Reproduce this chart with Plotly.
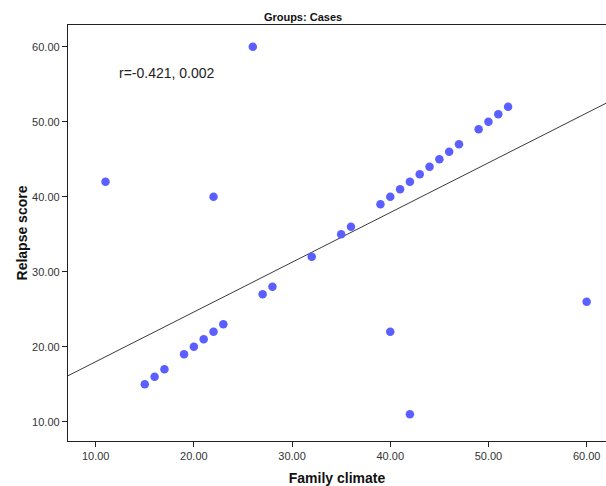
import plotly.graph_objects as go

family_climate = [11, 26, 22, 60, 40, 42,
                  15, 16, 17, 19, 20, 21, 22, 23, 27, 28, 32, 35, 36,
                  39, 40, 41, 42, 43, 44, 45, 46, 47, 49, 50, 51, 52]
relapse_score = [42, 60, 40, 26, 22, 11,
                 15, 16, 17, 19, 20, 21, 22, 23, 27, 28, 32, 35, 36,
                 39, 40, 41, 42, 43, 44, 45, 46, 47, 49, 50, 51, 52]

fit_intercept = 11.37
fit_slope = 0.663
x_range = [7.18, 61.97]
y_range = [7.43, 62.89]
tick_vals = [10, 20, 30, 40, 50, 60]
annotation_text = "r=-0.421, 0.002"

line_x = x_range
line_y = [fit_intercept + fit_slope * v for v in line_x]

fig = go.Figure()
fig.add_trace(go.Scatter(x=line_x, y=line_y, mode="lines",
                         line=dict(color="#3a3a3a", width=1), hoverinfo="skip",
                         showlegend=False))
fig.add_trace(go.Scatter(x=family_climate, y=relapse_score, mode="markers",
                         marker=dict(color="#5b5fff", size=8.5, line=dict(width=0)),
                         showlegend=False))

axis_common = dict(showline=True, linecolor="#222", linewidth=1.3,
                   ticks="outside", ticklen=5, tickwidth=1.3, tickcolor="#222",
                   showgrid=False, zeroline=False, tickvals=tick_vals,
                   tickformat=".2f", automargin=False,
                   tickfont=dict(family="Liberation Sans, Arial", size=11, color="#333"))

fig.update_xaxes(range=x_range, mirror=True, **axis_common,
                 title=dict(text="<b>Family climate</b>", standoff=14,
                            font=dict(family="Liberation Sans, Arial", size=14, color="#111")))
fig.update_yaxes(range=y_range, mirror=False, **axis_common,
                 title=dict(text="<b>Relapse score</b>", standoff=1,
                            font=dict(family="Liberation Sans, Arial", size=14, color="#111")))

fig.add_annotation(x=12.17, y=56.5, xref="x", yref="y", text=annotation_text,
                   showarrow=False, xanchor="left", yanchor="middle",
                   font=dict(family="Liberation Sans, Arial", size=14, color="#222"))

fig.update_layout(
    width=606, height=486,
    margin=dict(l=68, r=0, t=25, b=45),
    plot_bgcolor="white", paper_bgcolor="white",
    title=dict(text="<b>Groups: Cases</b>", x=0.5, xanchor="center", y=0.965, yanchor="middle",
               font=dict(family="Liberation Sans, Arial", size=11, color="#111")),
)

fig.write_html("out.html", config={"displayModeBar": False},
               post_script="document.body.style.margin='0';document.body.style.overflow='hidden';")
